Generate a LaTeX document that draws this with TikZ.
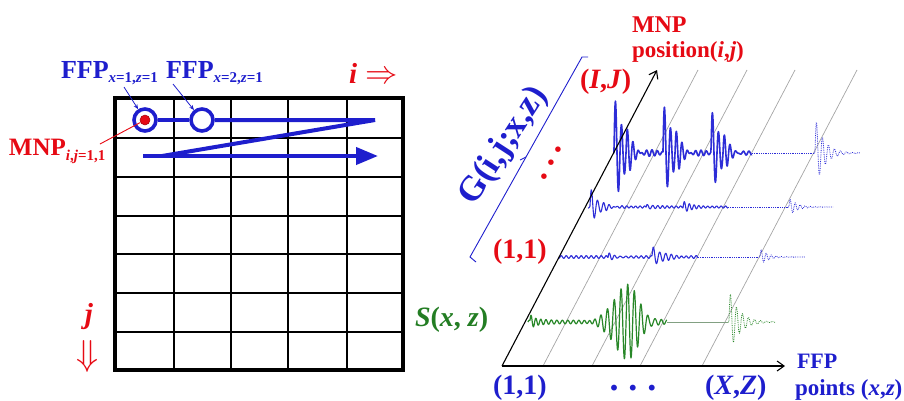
\documentclass[tikz,border=0pt]{standalone}
\usepackage{fontspec}
\usepackage{graphicx}
\setmainfont{Liberation Serif}
\usetikzlibrary{arrows.meta}
\definecolor{tblue}{RGB}{30,30,205}
\definecolor{tred}{RGB}{230,10,20}
\definecolor{tgreen}{RGB}{35,125,35}
\definecolor{wblue}{RGB}{45,45,215}
\definecolor{wgreen}{RGB}{40,135,40}
\definecolor{glin}{RGB}{165,165,165}
\definecolor{flatgreen}{RGB}{130,160,130}
\newcommand\fsz[1]{\fontsize{#1}{#1}\selectfont}
\begin{document}
\begin{tikzpicture}[x=1pt,y=-1pt,
  txt/.style={inner sep=0pt,outer sep=0pt,font=\bfseries},
  gridthin/.style={line width=1.3pt,black},
  gridthick/.style={line width=4.5pt,black,line join=miter},
  ring/.style={circle,draw=tblue,line width=3.6pt,minimum size=22pt,inner sep=0pt,fill=white},
  reddot/.style={circle,fill=tred,draw=tred!70!black,line width=0.5pt,minimum size=10pt,inner sep=0pt},
  bpath/.style={tblue,line width=4pt},
  bigarr/.style={bpath,-{Triangle[length=22pt,width=17pt]}},
  thinarr/.style={tblue,line width=0.8pt,-{Stealth[length=5pt,width=4pt]}},
  axisln/.style={black,line width=1.1pt},
  axisarr/.style={axisln,-{Straight Barb[length=7pt,width=10pt]}},
  slant/.style={glin,line width=0.7pt},
  wv/.style={wblue,line width=1.1pt,line join=round},
  wvd/.style={wblue,line width=0.8pt,densely dotted},
  wg/.style={wgreen,line width=1.2pt,line join=round},
  wgd/.style={wgreen,line width=0.8pt,densely dotted},
  declare function={
    bu(\bt,\ba,\bk,\bp)=notless(\bt,0)*\ba*exp(-min(max(\bt,0)/\bk,11))*sin(360*mod(max(\bt,0),\bp)/\bp);
    wig(\bt,\ba,\bp)=\ba*sin(360*mod(\bt,\bp)/\bp);
    gb(\bt,\ba,\bw,\bp)=\ba*exp(-min((\bt/\bw)^2,11))*sin(360*mod(\bt,\bp)/\bp);
  }]
\useasboundingbox (0,0) rectangle (904,400);

% ---------- left grid ----------
\foreach \gx in {174,231,288,347} \draw[gridthin] (\gx,98) -- (\gx,370);
\foreach \gy in {138,177,216,254,293,332} \draw[gridthin] (115,\gy) -- (403,\gy);
\draw[gridthick] (115,98) rectangle (403,370);

% scan path
\node[ring] (c1) at (145,120) {};
\node[ring] (c2) at (202,120) {};
\coordinate (r1) at (375,120);
\coordinate (r2) at (162,156);
\coordinate (a1) at (143,156);
\coordinate (a2) at (378,156);
\draw[bpath] (c1) -- (c2);
\draw[bpath,line join=miter] (c2) -- (r1) -- (r2);
\draw[bigarr] (a1) -- (a2);
\node[reddot] (m1) at (145,120) {};

% labels left
\node[txt,tblue,anchor=base west] (ffp1) at (61,78) {\fsz{26}FFP\raisebox{-4pt}{\fsz{15}\textit{x}=1,\textit{z}=1}};
\node[txt,tblue,anchor=base west] (ffp2) at (166,78) {\fsz{26}FFP\raisebox{-4pt}{\fsz{15}\textit{x}=2,\textit{z}=1}};
\node[txt,tred,anchor=base west] (mnp1) at (9,155) {\fsz{25}MNP\raisebox{-5pt}{\fsz{15}\textit{i},\textit{j}=1,1}};
\coordinate (f1t) at (124,87);
\coordinate (f2t) at (173,84);
\coordinate (mt) at (100,144);
\draw[thinarr] (f1t) -- (c1);
\draw[thinarr] (f2t) -- (c2);
\draw[tred,line width=0.9pt] (mt) -- (m1);

\node[txt,tred,anchor=base west] (ilab) at (349,83) {\fsz{29}\textit{i}\hspace{8pt}\fsz{24}\scalebox{1.3}{$\Rightarrow$}};
\node[txt,tred,anchor=base] (jlab) at (89,323) {\fsz{29}\textit{j}};
\node[tred,inner sep=0pt] (jarr) at (88,356) {\fsz{24}\scalebox{1.45}{$\Downarrow$}};

% ---------- right plot ----------
\foreach \b in {543,592,640,702} \draw[slant] (\b,366) -- (\b+155,70);

% row I,J (top)
\draw[wv,line width=1.6pt] plot[domain=613:752,samples=460] (\x,{153-(bu(\x-614,60,10,6)+bu(\x-626,9,18,5)+bu(\x-663,54,10,6)+bu(\x-675,8,18,5)+bu(\x-711,46,10,6)+bu(\x-723,7,15,5))});
\draw[wvd,line width=0.6pt] (752,153) -- (814,153);
\draw[wvd] plot[domain=814:860,samples=160] (\x,{153-bu(\x-815,36,9,6)});

% row 2
\draw[wv] plot[domain=588:728,samples=440] (\x,{207-(bu(\x-590,20,8,6)+bu(\x-646,4,7,5)+bu(\x-683,6,7,5)+wig(\x,1.0,4.5))});
\draw[wvd,line width=0.6pt] (728,207) -- (788,207);
\draw[wvd] plot[domain=788:833,samples=150] (\x,{207-bu(\x-789,9,8,5)});

% row (1,1)
\draw[wv] plot[domain=559:698,samples=440] (\x,{257-(bu(\x-608,6,8,5)+bu(\x-652,13,9,6)+wig(\x,1.3,5))});
\draw[wvd,line width=0.6pt] (698,257) -- (759,257);
\draw[wvd] plot[domain=759:805,samples=150] (\x,{257-bu(\x-760,8,8,5)});

% row S(x,z)
\draw[wg] plot[domain=528:667,samples=460] (\x,{322-(gb(\x-626,37,18,6.7)+bu(\x-530,9,6,5)+wig(\x,1.8,5.5))});
\draw[flatgreen,line width=0.8pt] (667,322) -- (728,322);
\draw[wgd] plot[domain=728:775,samples=160] (\x,{322-bu(\x-729,32,10,6)});

% axes
\coordinate (O) at (502,366);
\coordinate (Yend) at (657,70);
\coordinate (Xend) at (785,366);
\draw[axisarr] (O) -- (Yend);
\draw[axisarr] (O) -- (Xend);

% bracket
\draw[tblue,line width=0.9pt] (476,262) -- (470,257) -- (582,57) -- (588,57);
\draw[tblue,line width=0.9pt] (526,157) -- (520,160);

% right labels
\node[txt,tblue,rotate=57] (glab) at (504,146) {\fsz{35}G(i,j;x,z)};
\node[txt,tred,rotate=63] (rdots) at (551,163) {\fsz{34}.\hspace{7pt}.\hspace{7pt}.};
\node[txt,tred,anchor=base west] (mnpT) at (632,32) {\fsz{24}MNP};
\node[txt,tred,anchor=base west] (posT) at (632,57) {\fsz{23}position(\textit{i},\textit{j})};
\node[txt,tred,anchor=base west] (IJ) at (580,88) {\fsz{28}(\textit{I},\textit{J})};
\node[txt,tred,anchor=base west] (r11) at (493,258) {\fsz{28}(1,1)};
\node[txt,tgreen,anchor=base west] (Slab) at (415,326) {\fsz{28}\textit{S}(\textit{x}, \textit{z})};
\node[txt,tblue,anchor=base west] (b11) at (493,394) {\fsz{28}(1,1)};
\node[txt,tblue] (bdots) at (633,388) {\fsz{36}.\hspace{10pt}.\hspace{10pt}.};
\node[txt,tblue,anchor=base west] (XZ) at (705,394) {\fsz{28}(\textit{X},\textit{Z})};
\node[txt,tblue,anchor=base west] (ffpR) at (797,368) {\fsz{22}FFP};
\node[txt,tblue,anchor=base west] (ptsR) at (795,395) {\fsz{23}points (\textit{x},\textit{z})};
\end{tikzpicture}
\end{document}
